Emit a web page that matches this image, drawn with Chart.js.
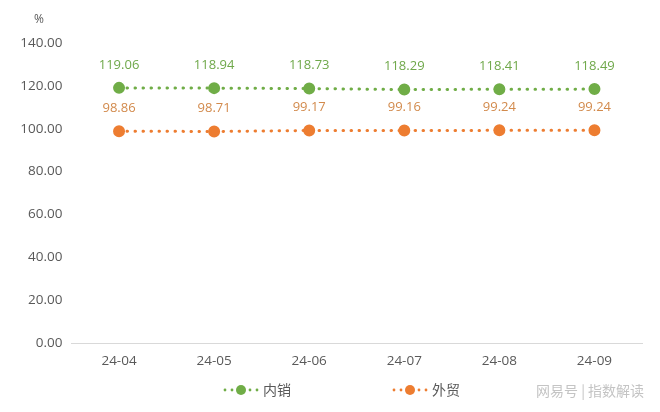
<!DOCTYPE html>
<html lang="zh">
<head>
<meta charset="UTF-8">
<title>内销 外贸</title>
<script src="https://cdn.jsdelivr.net/npm/chart.js@4.4.1/dist/chart.umd.min.js"></script>
<style>
  html, body { margin: 0; padding: 0; background: #fff; }
  #wrap { width: 660px; height: 412px; }
</style>
</head>
<body>
<div id="wrap"><canvas id="chart" width="660" height="412"></canvas></div>
<script>
  // 数据
  const months = ['24-04', '24-05', '24-06', '24-07', '24-08', '24-09'];
  const domestic = [119.06, 118.94, 118.73, 118.29, 118.41, 118.49]; // 内销
  const foreign = [98.86, 98.71, 99.17, 99.16, 99.24, 99.24];        // 外贸
  const seriesNames = ['内销', '外贸'];

  const green = '#70AD47';
  const orange = '#ED7D31';
  const font = '"Open Sans", "Noto Sans CJK SC", sans-serif';

  // 数据标签 + 图例 + 单位
  const extras = {
    id: 'extras',
    afterDatasetsDraw(chart) {
      const ctx = chart.ctx;
      ctx.save();
      ctx.textAlign = 'center';
      ctx.textBaseline = 'middle';
      ctx.font = '13px ' + font;
      const labelColors = ['#6FA84A', '#D28A4C'];
      chart.data.datasets.forEach((ds, i) => {
        chart.getDatasetMeta(i).data.forEach((pt, j) => {
          ctx.fillStyle = labelColors[i];
          ctx.fillText(ds.data[j].toFixed(2), pt.x, pt.y - 23);
        });
      });

      // 单位
      ctx.fillStyle = '#595959';
      ctx.font = '12px ' + font;
      ctx.fillText('%', 39, 20);

      // 图例
      const items = [
        { x: 241, color: green, text: seriesNames[0] },
        { x: 410, color: orange, text: seriesNames[1] }
      ];
      items.forEach(it => {
        const y = 390;
        ctx.fillStyle = it.color;
        [-16, -9, 9, 16].forEach(dx => {
          ctx.beginPath();
          ctx.arc(it.x + dx, y, 1.4, 0, Math.PI * 2);
          ctx.fill();
        });
        ctx.beginPath();
        ctx.arc(it.x, y, 5, 0, Math.PI * 2);
        ctx.fill();
        ctx.fillStyle = '#595959';
        ctx.font = '14px "Noto Sans CJK SC", sans-serif';
        ctx.textAlign = 'left';
        ctx.fillText(it.text, it.x + 22, y);
        ctx.textAlign = 'center';
      });

      // 水印
      ctx.fillStyle = '#c4c4c4';
      ctx.font = '14px "Noto Sans CJK SC", sans-serif';
      ctx.textAlign = 'left';
      ctx.fillText('网易号 | 指数解读', 536, 391);
      ctx.restore();
    }
  };

  const dotted = c => ({
    borderColor: c,
    backgroundColor: c,
    pointBackgroundColor: c,
    pointBorderColor: c,
    pointRadius: 4.5,
    pointHoverRadius: 4.5,
    borderWidth: 3,
    borderDash: [0.5, 7.5],
    borderCapStyle: 'round',
    tension: 0,
    fill: false
  });

  new Chart(document.getElementById('chart'), {
    type: 'line',
    data: {
      labels: months,
      datasets: [
        Object.assign({ label: seriesNames[0], data: domestic }, dotted(green)),
        Object.assign({ label: seriesNames[1], data: foreign }, dotted(orange))
      ]
    },
    options: {
      responsive: false,
      animation: false,
      layout: { padding: { top: 43, right: 18, bottom: 0, left: 0 } },
      plugins: {
        legend: { display: false },
        tooltip: { enabled: false }
      },
      scales: {
        x: {
          offset: true,
          afterFit: s => { s.height = 69; },
          grid: { display: false, drawTicks: false, offset: true },
          border: { display: true, color: '#d9d9d9', width: 1 },
          ticks: { color: '#595959', padding: 10, font: { size: 13.5, family: font } }
        },
        y: {
          min: 0,
          max: 140,
          afterFit: s => { s.width = 71.5; },
          grid: { display: false, drawTicks: false },
          border: { display: false },
          ticks: {
            stepSize: 20,
            color: '#595959',
            padding: 9,
            font: { size: 13.5, family: font },
            callback: v => v.toFixed(2)
          }
        }
      }
    },
    plugins: [extras]
  });
</script>
</body>
</html>
